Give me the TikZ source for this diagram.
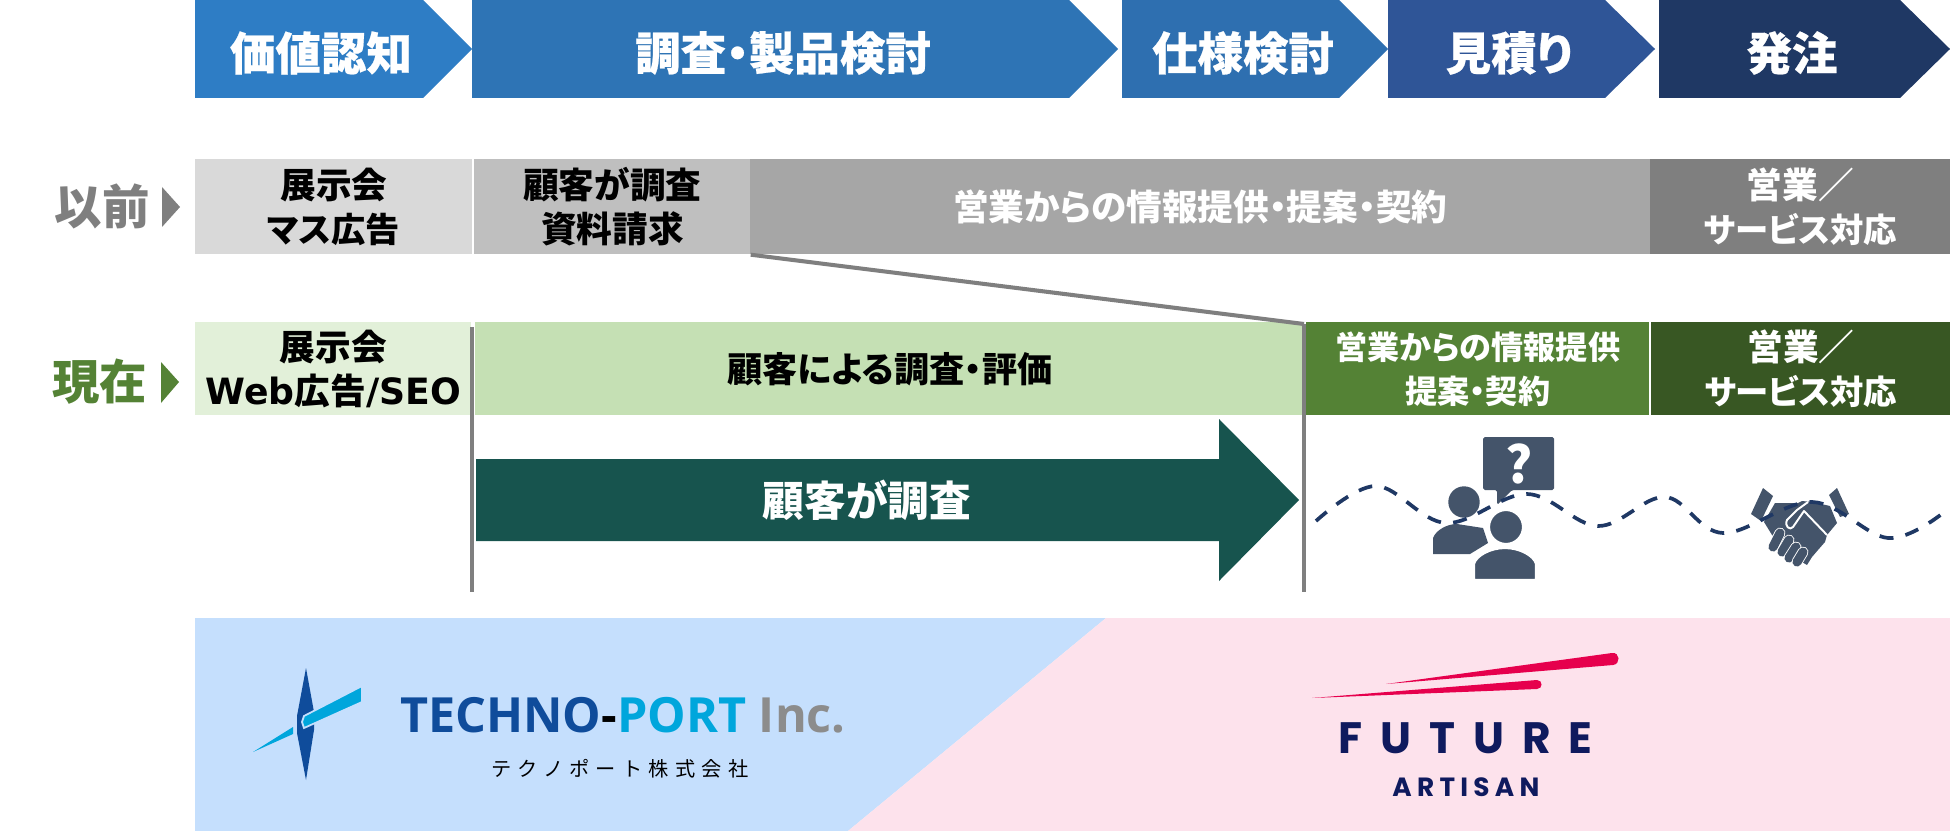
\documentclass[tikz,border=0pt]{standalone}
\usepackage{fontspec}
\setmainfont{Noto Sans CJK JP}[CharacterWidth=AlternateProportional]
\newfontfamily\stepfont{Noto Sans CJK JP}[CharacterWidth=AlternateProportional, BoldFeatures={FakeBold=0.5}]
\newfontfamily\latinfont{DejaVu Sans}
\newfontfamily\logofont{Open Sans}
\newfontfamily\futurefont{Poppins}[LetterSpace=41]
\newfontfamily\artisanfont{Poppins}[LetterSpace=20]
\newfontfamily\kanafont{Noto Sans CJK JP}[LetterSpace=31]
\definecolor{stepA}{HTML}{2E7DC5}
\definecolor{stepB}{HTML}{2E74B5}
\definecolor{stepC}{HTML}{2E6FB0}
\definecolor{stepD}{HTML}{2F5597}
\definecolor{stepE}{HTML}{1F3864}
\definecolor{oldA}{HTML}{D9D9D9}
\definecolor{oldB}{HTML}{BFBFBF}
\definecolor{oldC}{HTML}{A6A6A6}
\definecolor{oldD}{HTML}{7F7F7F}
\definecolor{nowA}{HTML}{E2F0D9}
\definecolor{nowB}{HTML}{C5E0B4}
\definecolor{nowC}{HTML}{548235}
\definecolor{nowD}{HTML}{385723}
\definecolor{arrowgreen}{HTML}{17544E}
\definecolor{iconblue}{HTML}{44546A}
\definecolor{wavenavy}{HTML}{1F3864}
\definecolor{bandblue}{HTML}{C5DFFD}
\definecolor{bandpink}{HTML}{FDE2EC}
\definecolor{technoblue}{HTML}{0F4C9B}
\definecolor{technocyan}{HTML}{00A6DC}
\definecolor{technogray}{HTML}{8C8C8C}
\definecolor{futurenavy}{HTML}{0F1A5E}
\definecolor{futurered}{HTML}{E6004D}
\newcommand{\smallkana}{\fontsize{19}{25}\selectfont}
\newcommand{\latinpart}[1]{{\latinfont\fontsize{20.6}{25}\selectfont #1}}
\tikzset{
	steptext/.style={text=white, font=\stepfont\bfseries\fontsize{25.9}{30}\selectfont},
	cell/.style={anchor=north west, inner sep=0pt, align=center, minimum width=#1, font=\bfseries\fontsize{20.3}{25}\selectfont},
	rowlabel/.style={anchor=center, inner sep=0pt, font=\bfseries\fontsize{27}{30}\selectfont},
	gridline/.style={oldD, line width=2.3pt},
	finger/.style={iconblue, line width=5.2pt, line cap=round},
	fingergap/.style={white, line width=6.2pt, line cap=round},
}
\begin{document}
\begin{tikzpicture}[x=0.02cm, y=-0.02cm]
	\useasboundingbox (0,0) rectangle (1950,831);
	\filldraw[stepA, draw=none] (195,0) -- (423,0) -- (472,49) -- (423,98) -- (195,98) -- cycle;
	\filldraw[stepB, draw=none] (472,0) -- (1069,0) -- (1118,49) -- (1069,98) -- (472,98) -- cycle;
	\filldraw[stepC, draw=none] (1122,0) -- (1339,0) -- (1388,49) -- (1339,98) -- (1122,98) -- cycle;
	\filldraw[stepD, draw=none] (1388,0) -- (1605,0) -- (1655,49) -- (1605,98) -- (1388,98) -- cycle;
	\filldraw[stepE, draw=none] (1659,0) -- (1900,0) -- (1950,49) -- (1900,98) -- (1659,98) -- cycle;
	\node[steptext] (stepaware) at (321,53) {価値認知};
	\node[steptext] (stepresearch) at (783,53) {調査・製品検討};
	\node[steptext] (stepspec) at (1243,53) {仕様検討};
	\node[steptext] (stepquote) at (1509,53) {見積り};
	\node[steptext] (steporder) at (1792,53) {発注};

	\node[rowlabel, text=oldD] (labelold) at (102,206) {以前};
	\node[rowlabel, text=nowC] (labelnow) at (100,382) {現在};
	\filldraw[oldD, draw=none] (162,187) -- (180,207) -- (162,227) -- cycle;
	\filldraw[nowC, draw=none] (161,362) -- (179,382) -- (161,403) -- cycle;

	\node[cell=277*0.02cm, fill=oldA, minimum height=95*0.02cm] (oldfair) at (195,159) {展示会\\{\fontsize{19.5}{25}\selectfont マス広告}};
	\node[cell=276*0.02cm, fill=oldB, minimum height=95*0.02cm] (oldself) at (474,159) {顧客が調査\\資料請求};
	\node[cell=900*0.02cm, fill=oldC, minimum height=95*0.02cm, text=white] (oldsales) at (750,159) {営業からの情報提供・提案・契約};
	\node[cell=300*0.02cm, fill=oldD, minimum height=95*0.02cm, text=white] (oldservice) at (1650,159) {営業／\\{\smallkana サービス対応}};

	\node[cell=276*0.02cm, fill=nowA, minimum height=93*0.02cm] (nowfair) at (195,322) {展示会\\\latinpart{Web}広告\latinpart{/SEO}};
	\node[cell=829*0.02cm, fill=nowB, minimum height=93*0.02cm, font=\bfseries\fontsize{20}{25}\selectfont] (nowself) at (475,322) {顧客による調査・評価};
	\node[cell=343*0.02cm, fill=nowC, minimum height=93*0.02cm, text=white, font=\bfseries\fontsize{18.3}{25}\selectfont] (nowsales) at (1306,322) {営業からの情報提供\\提案・契約};
	\node[cell=299*0.02cm, fill=nowD, minimum height=93*0.02cm, text=white] (nowservice) at (1651,322) {営業／\\{\smallkana サービス対応}};

	\coordinate (splitatop) at (472,327);
	\coordinate (splitabot) at (472,592);
	\coordinate (splitbtop) at (1304,324);
	\coordinate (splitbbot) at (1304,592);
	\draw[gridline] (oldself.south east) -- (splitbtop);
	\draw[gridline] (splitatop) -- (splitabot);
	\draw[gridline] (splitbtop) -- (splitbbot);

	\filldraw[arrowgreen, draw=none] (476,459) -- (1219,459) -- (1219,419) -- (1299,500) -- (1219,581) -- (1219,541) -- (476,541) -- cycle;
	\node[text=white, font=\bfseries\fontsize{23.7}{28}\selectfont] (bigarrow) at (867,500) {顧客が調査};

	\filldraw[iconblue, draw=none, rounded corners=1pt] (1483,437) -- (1554,437) -- (1554,490) -- (1512,490) -- (1497,505) -- (1497,490) -- (1483,490) -- cycle;
	\node[text=white, font=\bfseries\fontsize{29}{32}\selectfont] (question) at (1519,464) {?};
	\filldraw[iconblue, draw=none] (1464,502) circle (15.7);
	\filldraw[iconblue, draw=none] (1433,554) -- (1433,538) .. controls (1436,530) and (1447,524) .. (1457,524) -- (1483,528) -- (1488,543) -- (1470,554) -- cycle;
	\filldraw[iconblue, draw=white, line width=1.2pt] (1506,527) circle (17);
	\filldraw[iconblue, draw=white, line width=1.2pt] (1474,580) -- (1474,564) .. controls (1476,556) and (1490,548) .. (1505,548) .. controls (1520,548) and (1534,556) .. (1536,564) -- (1536,580) -- cycle;

	\filldraw[iconblue, draw=none] (1763,488) -- (1773,496) -- (1761,521) -- (1751,514) -- cycle;
	\filldraw[iconblue, draw=none] (1837,488) -- (1829,495) -- (1840,517) -- (1849,514) -- cycle;
	\filldraw[iconblue, draw=none] (1775,503) -- (1798,503) -- (1802,501) -- (1812,502) -- (1830,506) -- (1837,523) -- (1827,535) -- (1825,542) -- (1818,550) -- (1812,557) -- (1807,565) -- (1795,558) -- (1772,535) -- (1764,522) -- cycle;
	\draw[white, line width=1.1pt, line join=round] (1827,535) -- (1804,511) -- (1793,527) .. controls (1790,531) and (1784,526) .. (1787,520) -- (1797,510) -- (1808,502);
	\foreach \xa/\ya/\xb/\yb in {1780/533/1773/547, 1789/540/1782/552, 1796/547/1789/558, 1803/552/1797/562} {
		\draw[fingergap] (\xa,\ya) -- (\xb,\yb);
		\draw[finger] (\xa,\ya) -- (\xb,\yb);
	}

	\draw[wavenavy, line width=2.1pt, dash pattern=on 8pt off 7pt] plot[smooth, tension=0.6] coordinates {(1316,521) (1376,486) (1446,523) (1527,494) (1598,526) (1665,497) (1723,533) (1812,502) (1888,538) (1943,513)};

	\filldraw[bandblue, draw=none] (195,618) -- (1106,618) -- (848,831) -- (195,831) -- cycle;
	\filldraw[bandpink, draw=none] (1106,618) -- (1950,618) -- (1950,831) -- (848,831) -- cycle;

	\filldraw[technoblue, draw=none] (306,668) -- (314,712) -- (314,730) -- (306,780) -- (297,733) -- (297,716) -- cycle;
	\filldraw[technocyan, draw=bandblue, line width=1pt] (362,686) -- (362,702) -- (304,728) -- (302,722) -- (304,716) -- cycle;
	\filldraw[technocyan, draw=none] (253,752) -- (293,727) -- (293,734) -- cycle;

	\node[anchor=west, inner sep=0pt, font=\bfseries\fontsize{27.6}{30}\selectfont] (technoname) at (400,715) {\logofont\textcolor{technoblue}{TECHNO}\textcolor{black}{-}\textcolor{technocyan}{PORT} \textcolor{technogray}{Inc.}};
	\node[anchor=west, inner sep=0pt, font=\fontsize{11.5}{13}\selectfont] (technokana) at (491,769) {\kanafont テクノポート株式会社};

	\filldraw[futurered, draw=none] (1386,684) -- (1612,653) .. controls (1620,652) and (1621,664) .. (1613,665) -- cycle;
	\filldraw[futurered, draw=none] (1312,698) -- (1537,680) .. controls (1543,680) and (1543,689) .. (1537,689) -- cycle;
	\node[anchor=west, inner sep=0pt, text=futurenavy, font=\bfseries\fontsize{25}{30}\selectfont] (futurename) at (1338,738) {\futurefont FUTURE};
	\node[anchor=west, inner sep=0pt, text=futurenavy, font=\bfseries\fontsize{15}{18}\selectfont] (artisanname) at (1392,787) {\artisanfont ARTISAN};
\end{tikzpicture}
\end{document}
